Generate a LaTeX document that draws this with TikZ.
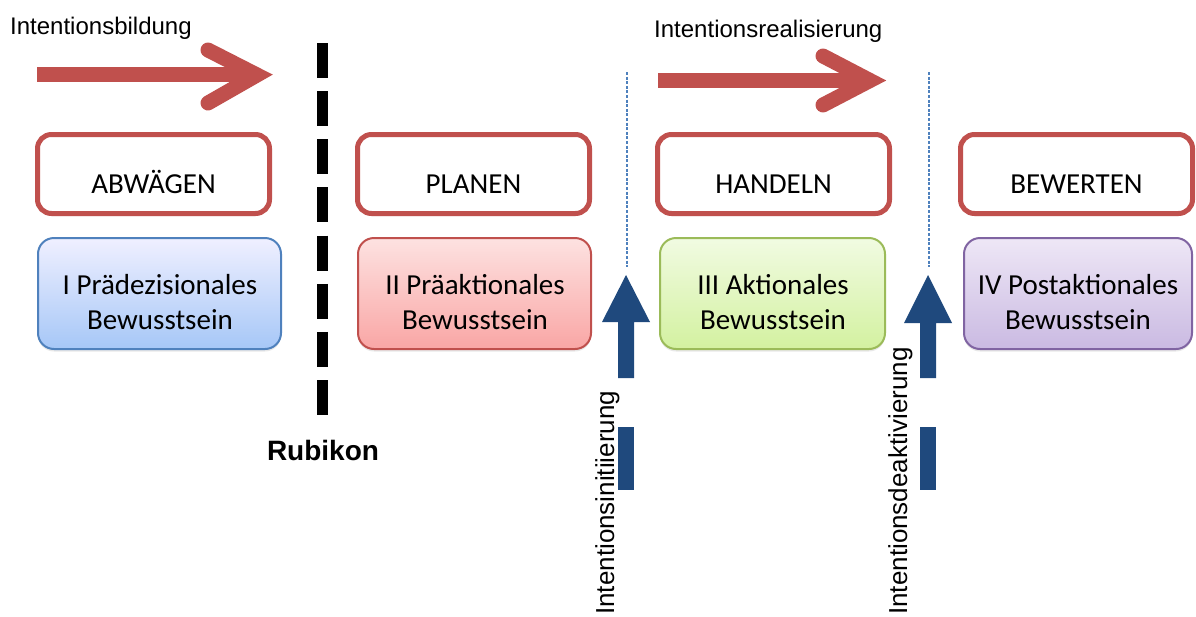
\documentclass[tikz,border=0pt]{standalone}
\usepackage{fontspec}
\setmainfont{Carlito}
\newfontfamily\arialf{Liberation Sans}
\usetikzlibrary{shadows}
\definecolor{cred}{HTML}{C0504D}
\definecolor{cnavy}{HTML}{1F497D}
\definecolor{cblue}{HTML}{4F81BD}
\definecolor{cgreen}{HTML}{9BBB59}
\definecolor{cpurple}{HTML}{8064A2}
\begin{document}
\begin{tikzpicture}[x=1pt,y=-1pt,
  topbox/.style={draw=cred, line width=5pt, rounded corners=14pt, fill=white,
    minimum width=232pt, minimum height=79pt, inner sep=0pt,
    drop shadow={shadow xshift=0pt, shadow yshift=-2.5pt, opacity=0.18}},
  toptext/.style={font=\fontsize{29}{35}\selectfont, anchor=base, inner sep=0pt},
  phasebox/.style={line width=2pt, rounded corners=16pt, minimum height=111pt, inner sep=0pt,
    drop shadow={shadow xshift=0pt, shadow yshift=-2.5pt, opacity=0.18}},
  phasetext/.style={font=\fontsize{29}{35}\selectfont, align=center, inner sep=0pt},
  lab/.style={font=\arialf\fontsize{24}{28}\selectfont, anchor=base west, inner sep=0pt},
  vlab/.style={font=\arialf\fontsize{26}{30}\selectfont, anchor=base west, inner sep=0pt, rotate=90},
  redarrow/.style={draw=cred, line width=15pt},
  redhead/.style={draw=cred, line width=15pt, line cap=round, line join=miter},
  navyarrow/.style={fill=cnavy},
  sepline/.style={draw=cblue, line width=1.3pt, dash pattern=on 3pt off 1.6pt}
]
\useasboundingbox (0,0) rectangle (1196,616);

% labels
\node[lab] (lbild) at (10,34) {Intentionsbildung};
\node[lab] (lreal) at (654,37) {Intentionsrealisierung};

% red arrows
\coordinate (a1s) at (37,74.5);
\coordinate (a1e) at (258,74.5);
\coordinate (a1t) at (208,50);
\coordinate (a1v) at (257,75);
\coordinate (a1b) at (208,103);
\draw[redarrow] (a1s) -- (a1e);
\draw[redhead] (a1t) -- (a1v) -- (a1b);

\coordinate (a2s) at (658,80);
\coordinate (a2e) at (871,80);
\coordinate (a2t) at (823,56);
\coordinate (a2v) at (870,80.5);
\coordinate (a2b) at (823,105);
\draw[redarrow] (a2s) -- (a2e);
\draw[redhead] (a2t) -- (a2v) -- (a2b);

% Rubikon line
\coordinate (rt) at (322,43);
\coordinate (rb) at (322,415);
\draw[line width=11pt, dash pattern=on 35pt off 13.15pt] (rt) -- (rb);
\node[font=\arialf\bfseries\fontsize{28}{32}\selectfont, anchor=base, inner sep=0pt] (rub) at (323,460) {Rubikon};

% dotted separators
\coordinate (s1t) at (627,72);
\coordinate (s1b) at (627,267);
\coordinate (s2t) at (929,72);
\coordinate (s2b) at (929,267);
\draw[sepline] (s1t) -- (s1b);
\draw[sepline] (s2t) -- (s2b);

% top boxes
\node[topbox] (abw) at (153.5,174) {};
\node[topbox] (pla) at (473.5,174) {};
\node[topbox] (han) at (773.5,174) {};
\node[topbox] (bew) at (1076.5,174) {};
\node[toptext] (tabw) at (153.5,193) {ABWÄGEN};
\node[toptext] (tpla) at (473.5,193) {PLANEN};
\node[toptext] (than) at (773.5,193) {HANDELN};
\node[toptext] (tbew) at (1076.5,193) {BEWERTEN};

% phase boxes
\node[phasebox, draw=cblue, top color=blue!6!white, bottom color={rgb,255:red,166;green,199;blue,247}, minimum width=243pt] (p1) at (159.5,293.5) {};
\node[phasebox, draw=cred, top color={rgb,255:red,253;green,226;blue,225}, bottom color={rgb,255:red,249;green,166;blue,165}, minimum width=233pt] (p2) at (474.5,293.5) {};
\node[phasebox, draw=cgreen, top color={rgb,255:red,241;green,251;blue,226}, bottom color={rgb,255:red,211;green,241;blue,160}, minimum width=225pt] (p3) at (772.5,293.5) {};
\node[phasebox, draw=cpurple, top color={rgb,255:red,238;green,231;blue,246}, bottom color={rgb,255:red,202;green,186;blue,226}, minimum width=228pt] (p4) at (1078,293.5) {};
\node[phasetext] (tp1) at (160,302) {I Prädezisionales\\Bewusstsein};
\node[phasetext] (tp2) at (475,302) {II Präaktionales\\Bewusstsein};
\node[phasetext] (tp3) at (773,302) {III Aktionales\\Bewusstsein};
\node[phasetext] (tp4) at (1078,302) {IV Postaktionales\\Bewusstsein};

% navy arrows
\fill[navyarrow] (618,378) -- (618,322) -- (602,322) -- (626,275) -- (650,322) -- (634,322) -- (634,378) -- cycle;
\fill[navyarrow] (618,427) rectangle (634,490);
\fill[navyarrow] (920,378) -- (920,323) -- (904,323) -- (928,275) -- (952,323) -- (936,323) -- (936,378) -- cycle;
\fill[navyarrow] (920,427) rectangle (936,490);

% vertical labels
\node[vlab] (lini) at (614,615) {Intentionsinitiierung};
\node[vlab] (ldea) at (907,615) {Intentionsdeaktivierung};
\end{tikzpicture}
\end{document}
